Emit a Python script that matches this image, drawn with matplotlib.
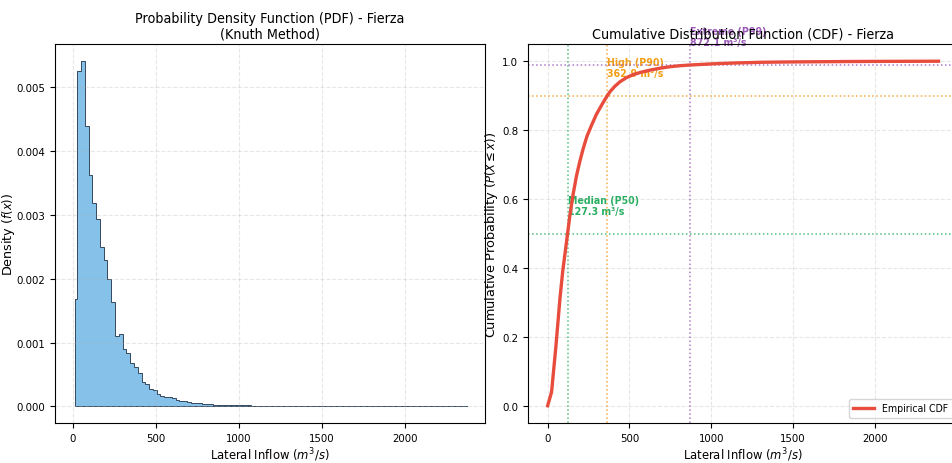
import numpy as np
import matplotlib
matplotlib.use("Agg")
import matplotlib.pyplot as plt
from matplotlib.ticker import FormatStrFormatter

# ---------------- data ----------------
bin_first_edge = 14.0
bin_start = 26.0
bin_width = 22.8
pdf_density = [
    0.00168, 0.00525, 0.00541, 0.00439, 0.00362, 0.00319, 0.00294, 0.00250,
    0.00229, 0.00199, 0.00163, 0.00111, 0.00114, 0.00090, 0.00084, 0.00068,
    0.00061, 0.00053, 0.00038, 0.00035, 0.00028, 0.00025, 0.00019, 0.00017,
    0.00014, 0.00014, 0.00013, 0.00010, 0.00009, 0.00009, 0.00007, 0.00006,
    0.00006, 0.00005, 0.00004, 0.00003, 0.00003, 0.000025, 0.00002, 0.00002,
    0.000015, 0.00002, 0.000015, 0.00002, 0.00002, 0.000015, 0.00002, 0.000012,
    0.00001, 0.000008, 0.00001, 0.000008, 0.00001, 0.000006, 0.000008, 0.000005,
    0.000004, 0.000004, 0.000006, 0.000003, 0.000005, 0.000004, 0.000002, 0.000003,
    0.000002, 0.000004, 0.000002, 0.000001, 0.000002, 0.000001, 0.000001, 0.000001,
    0.0, 0.000001, 0.0, 0.000001, 0.0, 0.0, 0.000001, 0.0,
    0.0, 0.0, 0.0, 0.0, 0.000001, 0.0, 0.0, 0.0,
    0.0, 0.0, 0.0, 0.0, 0.0, 0.0, 0.0, 0.0,
    0.0, 0.0, 0.0, 0.0, 0.0, 0.0, 0.000001, 0.0,
]

cdf_x = [0, 24, 50, 75, 92, 110, 136, 156, 177, 197, 217, 240, 268, 297, 329,
         355, 380, 410, 441, 480, 522, 570, 624, 690, 746, 810, 868, 950, 1030,
         1150, 1314, 1500, 1800, 2000, 2388]
cdf_y = [0.0, 0.04, 0.17, 0.31, 0.39, 0.456, 0.553, 0.615, 0.669, 0.71, 0.746,
         0.782, 0.814, 0.845, 0.872, 0.893, 0.911, 0.927, 0.940, 0.952, 0.961,
         0.968, 0.974, 0.980, 0.984, 0.987, 0.989, 0.991, 0.993, 0.995, 0.997,
         0.998, 0.999, 0.9995, 1.0]

pct_names = ["Median (P50)", "High (P90)", "Extreme (P99)"]
pct_probs = [0.50, 0.90, 0.99]
pct_values = [127.3, 362.9, 872.1]
pct_colors = ["#27AE60", "#F39C12", "#9B59B6"]

# ---------------- style ----------------
plt.rcParams["font.family"] = ["DejaVu Sans"]
plt.rcParams["font.stretch"] = "condensed"
plt.rcParams["mathtext.fontset"] = "dejavusans"

fig = plt.figure(figsize=(9.52, 4.64), dpi=100)
axL = fig.add_axes([55 / 952, 1 - 424 / 464, 430 / 952, 379 / 464])
axR = fig.add_axes([528 / 952, 1 - 424 / 464, 430 / 952, 379 / 464])

# ---------------- PDF ----------------
edges = [bin_first_edge] + [bin_start + bin_width * k for k in range(len(pdf_density))]
centers = [(edges[i] + edges[i + 1]) / 2 for i in range(len(pdf_density))]
axL.hist(centers, bins=edges, weights=pdf_density, histtype="stepfilled",
         facecolor="#85C1E9", edgecolor="#34495E", linewidth=0.7)
axL.set_title("Probability Density Function (PDF) - Fierza\n(Knuth Method)",
              fontsize=10.3, linespacing=1.1, pad=5)
axL.set_xlabel("Lateral Inflow ($m^3/s$)", fontsize=9.3)
axL.set_ylabel("Density ($f(x)$)", fontsize=9.2, fontstretch="normal")
axL.set_xlim(-108, 2484)
axL.set_ylim(-0.00026, 0.00568)
axL.set_xticks([0, 500, 1000, 1500, 2000])
axL.set_yticks([0.000, 0.001, 0.002, 0.003, 0.004, 0.005])
axL.yaxis.set_major_formatter(FormatStrFormatter("%.3f"))
axL.grid(True, linestyle="--", alpha=0.3)
axL.yaxis.set_label_coords(-0.088, 0.5)
axL.xaxis.set_label_coords(0.5, -0.058)

# ---------------- CDF ----------------
axR.plot(cdf_x, cdf_y, color="#E74C3C", linewidth=2.4, label="Empirical CDF", zorder=3)
for name, p, v, c in zip(pct_names, pct_probs, pct_values, pct_colors):
    axR.axvline(v, color=c, linestyle=":", linewidth=1.1, alpha=0.8)
    axR.axhline(p, color=c, linestyle=":", linewidth=1.1, alpha=0.8)
    axR.text(v, p + 0.05, f"{name}\n{v:.1f} m³/s", color=c, fontsize=7.6,
             fontweight="bold", ha="left", va="bottom", linespacing=1.2,
             zorder=1)
axR.set_title("Cumulative Distribution Function (CDF) - Fierza", fontsize=10.3,
              pad=5, zorder=10)
axR.set_xlabel("Lateral Inflow ($m^3/s$)", fontsize=9.3)
axR.set_ylabel("Cumulative Probability ($P(X \\leq x)$)", fontsize=9.3,
               fontstretch="normal")
axR.set_xlim(-120, 2507)
axR.set_ylim(-0.05, 1.05)
axR.set_xticks([0, 500, 1000, 1500, 2000])
axR.set_yticks([0.0, 0.2, 0.4, 0.6, 0.8, 1.0])
axR.grid(True, linestyle="--", alpha=0.3)
axR.legend(loc="lower right", fontsize=7.6)
axR.yaxis.set_label_coords(-0.065, 0.5)
axR.xaxis.set_label_coords(0.5, -0.058)

for ax in (axL, axR):
    ax.tick_params(labelsize=8.2)

fig.savefig("out.png", dpi=100)
